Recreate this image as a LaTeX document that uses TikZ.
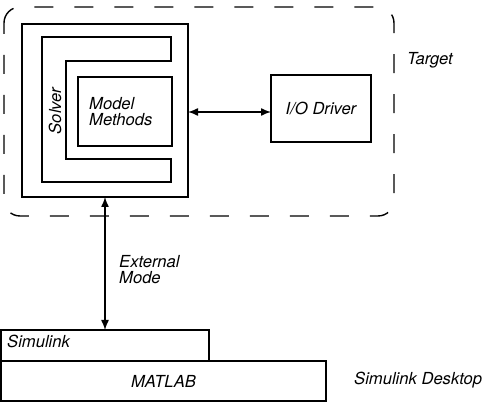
\documentclass[tikz,border=0pt]{standalone}
\usepackage{fontspec}
\setmainfont{TeX Gyre Heros}
\usetikzlibrary{arrows.meta}
\begin{document}
\begin{tikzpicture}[x=1pt,y=-1pt,
  every node/.style={font=\fontsize{16.6}{19}\selectfont\itshape},
  box/.style={draw, line width=1.4pt, inner sep=0pt, outer sep=0pt},
  lbl/.style={inner sep=0pt, align=left},
  conn/.style={line width=1.4pt, {Latex[length=10pt,width=8pt]}-{Latex[length=10pt,width=8pt]}}]
\useasboundingbox (0,0) rectangle (499,403);
% target region
\draw[line width=1.4pt, dash pattern=on 19pt off 21pt, rounded corners=16pt, dash phase=8pt]
  (4,7) rectangle (394,216);
\node[lbl] (target) at (430,60) {Target};
% solver
\node[box, minimum width=166pt, minimum height=173pt] (solver) at (105,110.5) {};
\draw[line width=1.4pt] (171,37) -- (42,37) -- (42,182) -- (171,182) -- (171,159)
  -- (66,159) -- (66,61) -- (171,61) -- cycle;
\node[lbl, rotate=90] (solvertxt) at (55,111) {Solver};
\node[box, minimum width=94pt, minimum height=69pt] (model) at (125,111.5) {};
\node[lbl, anchor=west] (modeltxt) at (89,111.5) {Model\\[-3pt]Methods};
% IO driver
\node[box, minimum width=100pt, minimum height=67pt] (io) at (321,108.5) {I/O Driver};
\draw[conn] (solver.east |- 0,112) -- (io.west |- 0,112);
% desktop
\node[box, minimum width=208pt, minimum height=31pt] (simulink) at (105,345.5) {};
\node[lbl, anchor=west] (simtxt) at (7,341) {Simulink};
\node[box, minimum width=325pt, minimum height=40pt] (matlab) at (163.5,381) {MATLAB};
\node[lbl, anchor=west] (desk) at (354,380) {Simulink Desktop};
\draw[conn] (105,197) coordinate (top) -- (105,330) coordinate (bot);
\node[lbl, anchor=west] (ext) at (119,270) {External\\[-3pt]Mode};
\end{tikzpicture}
\end{document}
